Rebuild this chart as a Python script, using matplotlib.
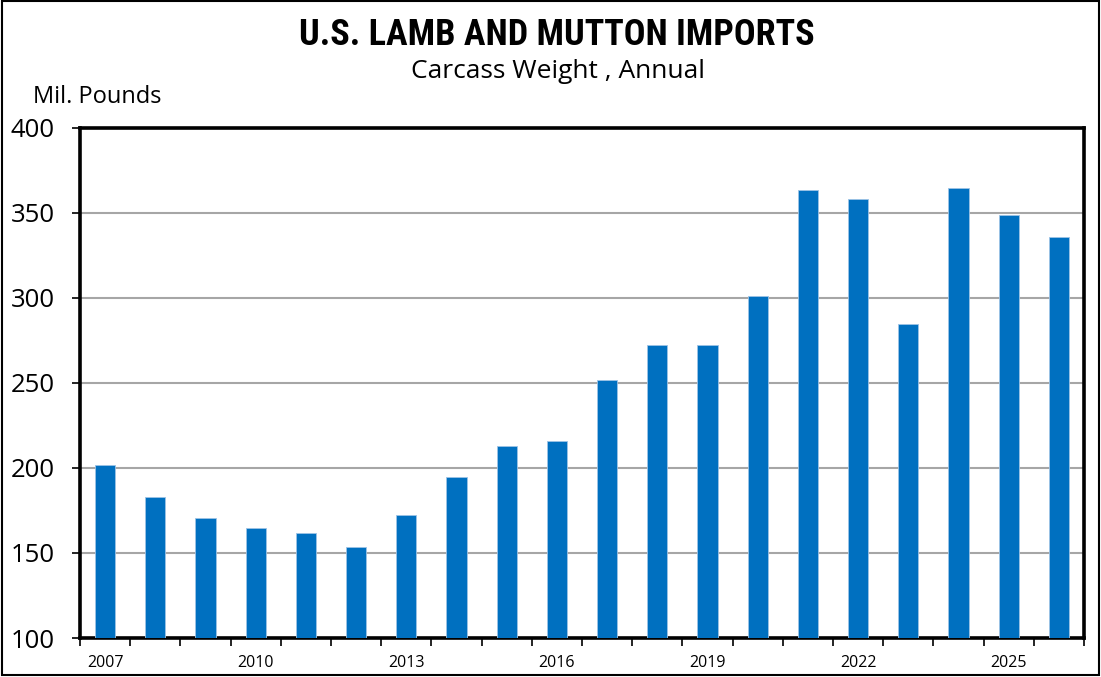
import matplotlib
matplotlib.use("Agg")
import matplotlib.pyplot as plt
from matplotlib import font_manager as fm
from matplotlib.patches import Rectangle

years = list(range(2007, 2027))
imports = [202, 183, 170.5, 165, 161.5, 153.5, 172.5, 194.5, 213, 216,
           251.5, 272.5, 272.5, 301, 363.5, 358, 284.5, 364.5, 349, 336]
yticks = [100, 150, 200, 250, 300, 350, 400]
xlabel_years = [2007, 2010, 2013, 2016, 2019, 2022, 2025]

available = {f.name for f in fm.fontManager.ttflist}
def pick(*names):
    for n in names:
        if n in available:
            return n
    return "DejaVu Sans"

title_font = pick("Liberation Sans Narrow", "DejaVu Sans Condensed", "Roboto Condensed", "Liberation Sans")
body_font = pick("Open Sans", "Lato", "DejaVu Sans")

fig = plt.figure(figsize=(11.01, 6.77), dpi=100)
ax = fig.add_axes([80/1101, 1 - 638/677, (1084-80)/1101, (638-128)/677])

x = list(range(len(years)))
ax.bar(x, [v - 100 for v in imports], bottom=100, width=0.4, color="#0070C0",
       edgecolor="#9DC3E6", linewidth=0.6, zorder=3)

ax.set_ylim(100, 400)
ax.set_xlim(-0.5, len(years) - 0.5)
ax.set_yticks(yticks)
ax.set_yticklabels([str(t) for t in yticks], fontsize=18.5, family=body_font)
ax.yaxis.grid(True, color="#A6A6A6", linewidth=1.5, zorder=0)
ax.tick_params(axis="y", length=6, width=1.2, pad=12)

# ticks at category boundaries, labels every 3 years centered on bars
ax.set_xticks([i - 0.5 for i in range(len(years) + 1)])
ax.set_xticklabels([])
ax.tick_params(axis="x", which="major", length=6, width=1.2, direction="out")
ax.set_xticks([years.index(y) for y in xlabel_years], minor=True)
ax.set_xticklabels([str(y) for y in xlabel_years], minor=True, fontsize=11.5, family=body_font)
ax.tick_params(axis="x", which="minor", length=0, pad=12)

for s in ax.spines.values():
    s.set_linewidth(2.6)
    s.set_color("black")

fig.text(557/1101, 1 - 35/677, "U.S. LAMB AND MUTTON IMPORTS", ha="center", va="center",
         fontsize=26, fontweight="bold", family=title_font)
fig.text(558/1101, 1 - 72/677, "Carcass Weight , Annual", ha="center", va="center",
         fontsize=19, family=body_font)
fig.text(33/1101, 1 - 97/677, "Mil. Pounds", ha="left", va="center",
         fontsize=17, family=body_font)

fig.patches.append(Rectangle((0.002, 0.003), 0.996, 0.995, transform=fig.transFigure,
                             fill=False, edgecolor="black", linewidth=1.5))

fig.savefig("out.png", dpi=100)
